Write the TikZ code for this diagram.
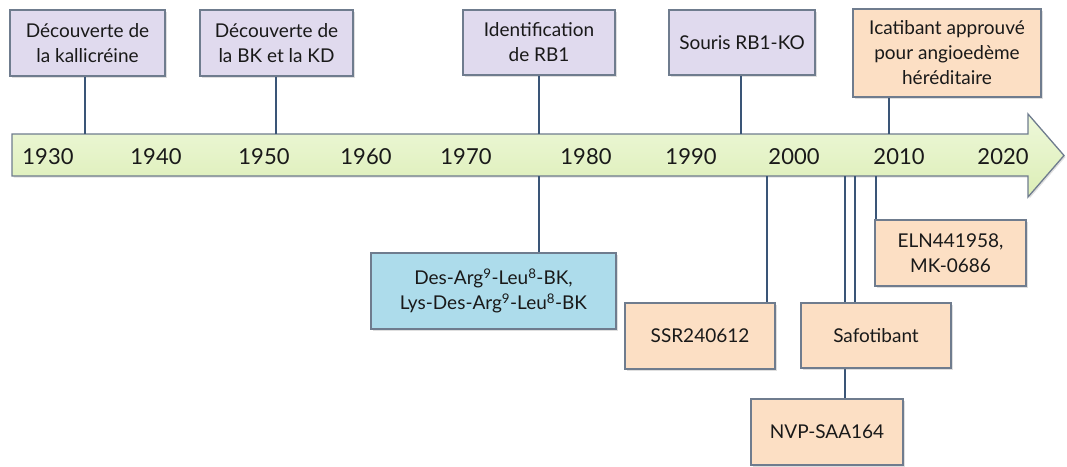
\documentclass[tikz,border=0pt]{standalone}
\usepackage{fontspec}
\setmainfont{Lato}
\usetikzlibrary{shadows}

\definecolor{lilas}{HTML}{E0DAEE}
\definecolor{peche}{HTML}{FCDFC4}
\definecolor{ciel}{HTML}{ADDCEB}
\definecolor{vertclair}{HTML}{EEF8DA}
\definecolor{vertfonce}{HTML}{DCEEB6}
\definecolor{bord}{HTML}{6F7C8E}
\definecolor{trait}{HTML}{3A5577}

\tikzstyle{boite} = [rectangle, draw=bord, line width=1.3pt, align=center,
    inner sep=0pt, text=black!90, font=\fontsize{19}{25}\selectfont,
    drop shadow={opacity=0.25, shadow xshift=1.5pt, shadow yshift=-1.5pt}]
\tikzstyle{decouverte} = [boite, fill=lilas]
\tikzstyle{molecule} = [boite, fill=peche]
\tikzstyle{peptide} = [boite, fill=ciel]
\tikzstyle{annee} = [font=\fontsize{22}{26}\selectfont, text=black!90]
\tikzstyle{lien} = [draw=trait, line width=2.6pt]

\begin{document}
\begin{tikzpicture}[x=1pt, y=-1pt]
	\useasboundingbox (0,0) rectangle (1067,466);
	% axe du temps
	\draw [draw=bord, line width=1.3pt, top color=vertclair, bottom color=vertfonce,
	    drop shadow={opacity=0.25, shadow xshift=1.5pt, shadow yshift=-1.5pt}]
	    (12,134) -- (1028,134) -- (1028,114) -- (1064,155.5)
	    -- (1028,197) -- (1028,176) -- (12,176) -- cycle;
	\foreach \an/\x in {1930/48, 1940/156, 1950/264, 1960/366, 1970/466,
	    1980/586, 1990/691, 2000/794, 2010/899, 2020/1003}
	    \node [annee] (a\an) at (\x,157) {\an};
	%
	% points de l'axe
	\coordinate (tkal) at (85,134);
	\coordinate (tbk) at (276,134);
	\coordinate (trb) at (539,134);
	\coordinate (tko) at (741,134);
	\coordinate (ticat) at (889,134);
	\coordinate (tdes) at (539,176);
	\coordinate (tssr) at (767,176);
	\coordinate (tnvp) at (845,176);
	\coordinate (tsaf) at (855,176);
	\coordinate (teln) at (876,176);
	%
	% evenements au-dessus
	\node [decouverte, minimum width=155, minimum height=66] (kal) at (87.5,43)
	    {Découverte de\\la kallicréine};
	\node [decouverte, minimum width=153, minimum height=66] (bk) at (276.5,43)
	    {Découverte de\\la BK et la KD};
	\node [decouverte, minimum width=152, minimum height=65] (rb) at (539,42.5)
	    {Identification\\de RB1};
	\node [decouverte, minimum width=146, minimum height=65] (ko) at (742,42.5)
	    {Souris RB1-KO};
	\node [molecule, minimum width=188, minimum height=88] (icat) at (947,53)
	    {Icatibant approuvé\\pour angioedème\\héréditaire};
	%
	\draw [lien] (tkal) -- (tkal |- kal.south);
	\draw [lien] (tbk) -- (tbk |- bk.south);
	\draw [lien] (trb) -- (trb |- rb.south);
	\draw [lien] (tko) -- (tko |- ko.south);
	\draw [lien] (ticat) -- (ticat |- icat.south);
	%
	% evenements au-dessous
	\node [molecule, minimum width=152, minimum height=66] (nvp) at (827,432)
	    {NVP-SAA164};
	\draw [lien] (tnvp) -- (tnvp |- nvp.north);
	\node [peptide, minimum width=245, minimum height=76] (des) at (493.5,291)
	    {Des-Arg\textsuperscript{9}-Leu\textsuperscript{8}-BK,\\
	     Lys-Des-Arg\textsuperscript{9}-Leu\textsuperscript{8}-BK};
	\node [molecule, minimum width=150, minimum height=66] (ssr) at (700,336)
	    {SSR240612};
	\node [molecule, minimum width=150, minimum height=65] (saf) at (876,335.5)
	    {Safotibant};
	\node [molecule, minimum width=151, minimum height=66] (eln) at (950.5,253)
	    {ELN441958,\\MK-0686};
	%
	\draw [lien] (tdes) -- (tdes |- des.north);
	\draw [lien] (tssr) -- (tssr |- ssr.north);
	\draw [lien] (tsaf) -- (tsaf |- saf.north);
	\draw [lien] (teln) -- (teln |- eln.north);
\end{tikzpicture}
\end{document}
